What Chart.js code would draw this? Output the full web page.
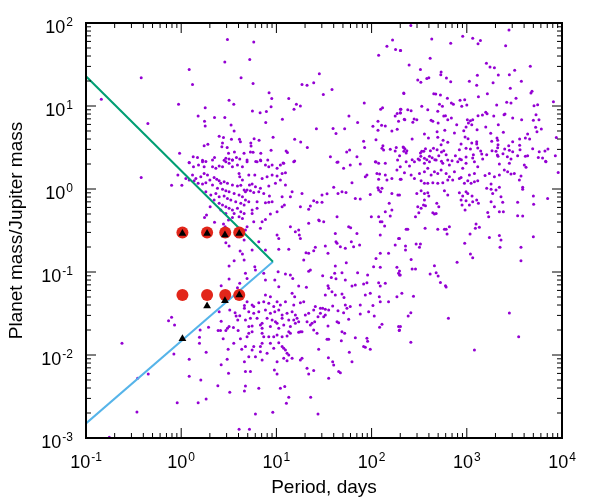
<!DOCTYPE html>
<html>
<head>
<meta charset="utf-8">
<script src="https://cdn.jsdelivr.net/npm/chart.js@4"></script>
<style>
  html, body { margin: 0; padding: 0; background: #fff; }
  canvas { display: block; }
</style>
</head>
<body>
<canvas id="chart" width="599" height="503"></canvas>
<script>
// Known planets as [log10(period, days), log10(mass, M_Jup)]
const planets = [
  // short period, high mass
  [0.486,1.80],[0.458,1.53],[0.084,1.44],[-0.42,1.34],[0.629,1.34],[0.119,1.26],[-0.839,1.08],[-0.028,1.02],
  [0.503,1.07],[0.552,1.02],[0.252,0.98],[0.178,0.88],[0.35,0.86],[0.458,0.86],[0.245,0.815],[0.252,0.76],
  [0.524,0.77],[-0.35,0.79],[0.556,0.70],[0.399,0.635],[0.444,0.62],[0.528,0.60],[0.612,0.60],[0.622,0.57],
  [0.434,0.555],[0.241,0.52],[0.28,0.54],[0.427,0.51],[0.483,0.50],[0.559,0.445],[0.497,0.43],[-0.017,0.43],
  [0.35,0.38],[0.126,0.39],[0.171,0.38],[0.66,0.43],[0.469,0.37],[0.451,0.345],[0.503,0.36],[0.538,0.35],
  [0.58,0.38],[0.615,0.36],[0.084,0.32],[0.224,0.345],[0.259,0.33],
  // 5 - 300 days, high mass
  [0.762,1.77],[0.72,1.56],[0.755,1.27],[1.451,1.39],[1.269,1.26],[1.322,1.25],[1.392,1.28],[1.493,1.14],
  [1.584,1.20],[0.923,1.16],[0.951,1.09],[1.13,1.09],[1.21,1.02],[1.252,1.0],[1.185,0.96],[0.944,0.99],
  [0.748,0.94],[0.829,0.92],[0.895,0.935],[0.888,0.80],[1.063,0.84],[1.42,0.727],[1.595,0.73],[1.626,0.67],
  [1.717,0.727],[1.762,0.88],[1.853,0.80],[1.923,1.036],[2.095,0.96],[2.115,0.98],[2.074,1.61],[2.161,1.72],
  [2.22,1.795],[2.252,1.68],[2.304,1.67],[2.339,1.15],[2.248,0.88],[2.269,0.91],[2.301,0.92],[2.308,0.96],
  [2.343,0.84],[2.283,0.815],[2.067,0.815],[2.014,0.755],[2.105,0.767],[2.144,0.76],[2.067,0.707],[2.213,0.70],
  [2.269,0.72],[2.046,0.594],[1.916,0.574],[1.927,0.50],[2.119,0.52],[2.126,0.47],[2.109,0.49],[2.196,0.478],
  [2.248,0.458],[2.259,0.50],[2.336,0.50],[2.339,0.454],[2.294,0.40],[2.273,0.35],[2.046,0.325],[1.846,0.39],
  [1.769,0.47],[1.738,0.446],[1.567,0.39],[1.647,0.325],[1.325,0.50],[1.255,0.566],[1.192,0.598],[1.116,0.44],
  [1.102,0.458],[0.965,0.622],[0.818,0.586],[0.766,0.606],[0.731,0.554],[0.734,0.518],[0.727,0.446],[0.755,0.442],
  [0.836,0.43],[0.944,0.466],[0.692,0.35],[0.783,0.33],[0.836,0.34],[0.909,0.35],[1.192,0.337],[1.07,0.313],
  // long period, high mass
  [2.412,1.97],[3.443,1.916],[2.632,1.807],[2.957,1.84],[3.062,1.815],[3.143,1.79],[2.831,1.755],[3.118,1.75],
  [3.408,1.727],[2.303,1.67],[2.615,1.574],[2.394,1.494],[3.206,1.514],[3.244,1.47],[3.29,1.462],[3.667,1.478],
  [2.513,1.44],[2.73,1.41],[2.727,1.378],[3.111,1.37],[3.331,1.373],[3.503,1.43],[3.447,1.378],[2.786,1.337],
  [2.485,1.313],[2.517,1.285],[2.58,1.33],[2.601,1.34],[2.831,1.293],[3.027,1.297],[3.104,1.249],[3.276,1.281],
  [3.573,1.297],[2.338,1.157],[2.653,1.149],[2.674,1.145],[2.723,1.133],[3.674,1.157],[3.685,1.177],[3.457,1.213],
  [3.122,1.112],[3.216,1.149],[2.796,1.092],[2.929,1.068],[2.978,1.076],[3.517,1.092],[3.419,1.044],[3.464,1.036],
  [3.314,1.012],[3.706,1.004],[3.744,1.016],[2.713,1.02],[2.838,1.036],[2.859,1.02],[2.744,0.996],[2.947,0.996],
  [3.0,1.012],[2.527,0.996],[2.303,0.96],[2.38,0.956],[2.415,0.944],[2.59,0.956],[2.695,0.936],[2.776,0.884],
  [2.758,0.88],[2.8,0.835],[2.838,0.855],[2.699,0.795],[2.643,0.815],[2.625,0.827],[2.447,0.843],[2.433,0.803],
  [2.349,0.835],[2.303,0.916],[2.475,0.835],[3.006,0.835],[3.038,0.823],[3.062,0.835],[3.017,0.795],[3.052,0.775],
  [2.894,0.775],[2.87,0.675],[2.968,0.703],[2.992,0.747],[3.108,0.715],[2.982,0.627],[3.118,0.884],[3.164,0.892],
  [3.199,0.924],[3.213,0.908],[3.283,0.88],[3.401,0.904],[3.391,0.896],[3.482,0.855],[3.576,0.835],[3.699,0.827],
  [3.758,0.835],[3.727,0.896],[3.723,0.743],[3.783,0.723],[3.331,0.775],[3.199,0.747],[3.251,0.671],[3.384,0.683],
  [3.317,0.614],[3.324,0.586],[3.639,0.663],[3.615,0.614],[3.555,0.602],[3.482,0.57],[3.66,0.602],[3.737,0.69],
  [2.555,0.663],[2.688,0.69],[2.769,0.707],[2.597,0.614],[2.695,0.622],[2.751,0.586],[2.426,0.602],[2.8,0.562],
  [2.73,0.534],[2.94,0.542],[3.013,0.606],[3.052,0.554],[3.104,0.57],[3.104,0.542],[2.922,0.474],[2.992,0.49],
  [3.038,0.482],[3.115,0.494],[3.146,0.458],[3.157,0.422],[3.262,0.574],[3.265,0.462],[3.209,0.414],[3.328,0.534],
  [3.324,0.498],[3.307,0.454],[3.321,0.41],[3.38,0.426],[3.398,0.482],[3.447,0.466],[3.44,0.522],[3.482,0.45],
  [3.555,0.526],[3.559,0.474],[3.692,0.486],[3.761,0.45],[3.821,0.458],[3.852,0.482],[3.751,0.38],[3.796,0.373],
  [3.615,0.394],[3.639,0.40],[3.534,0.40],[3.464,0.361],[3.426,0.39],[3.328,0.394],[3.069,0.414],[3.062,0.373],
  [2.926,0.361],[2.943,0.353],[2.845,0.341],[2.783,0.414],[2.758,0.462],[2.734,0.446],[2.688,0.474],[2.65,0.49],
  [2.618,0.462],[2.566,0.486],[2.548,0.454],[2.527,0.454],[2.513,0.434],[2.517,0.394],[2.555,0.37],[2.58,0.353],
  [2.608,0.394],[2.636,0.378],[2.664,0.353],[2.706,0.402],[2.734,0.333],[2.8,0.35],[2.88,0.40],[2.992,0.386],
  [3.167,0.361],[2.349,0.486],[2.363,0.434],[2.426,0.353],[2.331,0.506],[2.37,0.462],[2.489,0.361],[3.828,0.333],
  // hot Jupiters, 0.7 - 5 days
  [-0.42,0.14],[-0.101,0.044],[-0.035,0.168],[0.007,0.044],[0.084,0.317],[0.129,0.269],[0.182,0.289],[0.224,0.329],
  [0.241,0.269],[0.119,0.168],[0.154,0.128],[0.206,0.148],[0.241,0.188],[0.276,0.168],[0.329,0.269],[0.364,0.249],
  [0.399,0.277],[0.434,0.269],[0.469,0.329],[0.503,0.309],[0.538,0.269],[0.591,0.289],[0.608,0.188],[0.615,0.148],
  [0.643,0.108],[0.643,0.269],[0.538,0.349],[0.329,0.349],[0.049,0.128],[0.084,0.108],[0.136,0.10],[0.178,0.068],
  [0.224,0.06],[0.259,0.076],[0.301,0.108],[0.346,0.14],[0.374,0.116],[0.399,0.10],[0.416,0.068],[0.451,0.088],
  [0.486,0.068],[0.538,0.048],[0.591,0.036],[0.626,0.044],[0.661,-0.012],[0.329,0.048],[0.381,0.008],[0.434,-0.004],
  [0.469,-0.02],[0.503,-0.033],[0.556,-0.053],[0.608,-0.073],[0.643,-0.093],[0.259,-0.033],[0.311,-0.073],[0.364,-0.053],
  [0.399,-0.093],[0.451,-0.085],[0.486,-0.113],[0.521,-0.133],[0.573,-0.153],[0.626,-0.173],[0.661,-0.193],[0.346,-0.133],
  [0.399,-0.173],[0.434,-0.193],[0.469,-0.213],[0.503,-0.233],[0.538,-0.253],[0.591,-0.233],[0.626,-0.273],[0.661,-0.294],
  [0.556,-0.294],[0.608,-0.334],[0.643,-0.354],[0.538,-0.342],[0.469,-0.294],[0.416,-0.253],[0.304,-0.213],[0.245,-0.342],
  [0.266,-0.314],[0.35,-0.402],[0.444,-0.422],[0.462,-0.454],[0.497,-0.374],[0.469,-0.647],[0.503,-0.687],[0.619,-0.747],
  [0.643,-0.783],[0.556,-0.864],[0.503,-0.928],[0.503,-1.085],[0.42,-1.165],[0.591,-1.189],[0.615,-1.137],[0.661,-0.615],
  [0.591,-0.575],[0.661,-0.856],
  // 5 - 200 days, 0.03 - 2 M_Jup
  [0.692,0.329],[0.797,0.329],[0.832,0.349],[0.885,0.289],[0.92,0.269],[0.955,0.289],[1.007,0.249],[1.042,0.289],
  [1.077,0.309],[1.182,0.329],[0.71,0.168],[0.773,0.168],[0.85,0.128],[0.902,0.149],[0.955,0.168],[1.007,0.156],
  [1.06,0.188],[1.095,0.196],[0.717,0.048],[0.745,0.06],[0.78,0.028],[0.832,0.008],[0.92,0.036],[0.99,0.068],
  [1.042,0.108],[1.095,0.048],[0.675,-0.033],[0.692,-0.012],[0.727,-0.02],[0.762,-0.041],[0.815,-0.033],[0.867,-0.053],
  [0.927,-0.085],[0.885,-0.165],[0.92,-0.161],[0.955,-0.153],[1.06,-0.093],[0.675,-0.133],[0.71,-0.153],[0.797,-0.153],
  [0.745,-0.253],[0.797,-0.233],[0.745,-0.294],[1.007,-0.273],[0.937,-0.302],[0.885,-0.366],[0.85,-0.394],[0.762,-0.394],
  [0.692,-0.454],[0.832,-0.474],[0.675,-0.494],[1.007,-0.555],[1.025,-0.595],[1.147,-0.454],[1.199,-0.514],[1.234,-0.494],
  [1.241,-0.555],[1.252,-0.595],[1.13,-0.727],[1.025,-0.727],[0.885,-0.735],[0.815,-0.635],[0.745,-0.735],[1.339,-0.414],
  [1.444,-0.374],[1.497,-0.394],[1.409,-0.703],[1.392,-0.743],[1.339,-0.775],[1.311,-0.767],[1.514,-0.687],[1.542,-0.775],
  [1.619,-0.535],[1.626,-0.635],[1.637,-0.655],[1.672,-0.695],[1.724,-0.715],[1.787,-0.635],[1.811,-0.695],[1.846,-0.535],
  [1.874,-0.675],[1.759,-0.454],[1.78,-0.466],[1.734,-0.888],[1.619,-0.928],[1.612,-1.016],[1.287,-0.856],[1.357,-0.976],
  [1.339,-0.992],[1.486,-1.045],[1.577,-1.065],[1.626,-1.081],[1.689,-1.008],[1.724,-1.097],[1.794,-1.169],[1.829,-1.157],
  [1.916,-1.145],[1.951,-1.129],[1.958,-1.037],[1.853,-1.008],[2.021,-0.936],[2.091,-0.944],[2.046,-0.836],[2.091,-0.775],
  [2.178,-0.775],[2.248,-0.675],[2.283,-0.595],[2.091,-0.555],[2.137,-0.446],[2.196,-0.326],[2.213,-0.253],[2.091,-0.394],
  [2.109,-0.394],[1.997,-0.334],[2.074,-0.334],[2.185,-0.173],[2.144,-0.273],[1.986,-0.065],[1.951,0.168],[1.934,0.149],
  [2.074,0.116],[2.056,0.188],[2.084,0.18],[2.161,0.108],[2.144,0.168],[2.213,0.128],[2.301,0.116],[2.266,0.229],
  [2.301,0.269],[2.074,0.309],[2.144,0.309],[2.039,0.329],[1.881,0.301],[1.776,0.289],[1.706,0.249],[1.637,0.321],
  [1.794,0.076],[1.602,0.02],[1.532,-0.057],[1.479,-0.073],[1.392,-0.141],[1.427,-0.161],[1.479,-0.161],[1.357,-0.205],
  [1.339,-0.245],[1.269,-0.053],[1.252,-0.213],[1.165,-0.033],[1.147,-0.093],[1.084,-0.193],[1.06,-0.213],[1.829,-0.113],
  [1.881,-0.121],[2.213,-0.053],[2.276,-0.073],[2.109,0.008],[2.074,-0.012],[2.095,-0.033],[2.067,0.016],[1.731,-0.041],
  [1.689,-0.033],[1.647,-0.053],[1.637,-0.334],[1.451,-0.382],[1.025,-1.177],[0.885,-1.278],[0.937,-1.298],[1.165,-1.257],
  [1.192,-1.298],[1.234,-1.169],[1.315,-1.185],[1.147,-1.037],[1.172,-1.077],[1.095,-1.024],[1.018,-0.996],[0.983,-1.097],
  [0.773,-0.936],[0.78,-0.976],[0.692,-1.077],[0.675,-1.016],[0.867,-1.016],[0.885,-1.097],[1.584,-1.237],[1.619,-1.278],
  [1.689,-1.265],[1.71,-1.306],[1.549,-1.197],[1.542,-1.165],[1.514,-1.278],[1.934,-1.278],[1.986,-1.257],[2.074,-1.129],
  [2.091,-1.169],[2.144,-1.137],[2.266,-0.944],[2.283,-1.016],[2.301,-1.037],[2.081,-1.298],[2.266,-1.298],[2.318,-1.257],
  // long period, 0.05 - 2 M_Jup
  [2.363,0.329],[2.398,0.277],[2.45,0.329],[2.503,0.349],[2.555,0.309],[2.608,0.329],[2.678,0.349],[2.748,0.309],
  [2.817,0.289],[2.905,0.329],[2.992,0.309],[3.08,0.329],[3.115,0.269],[2.345,0.196],[2.415,0.168],[2.45,0.128],
  [2.503,0.188],[2.555,0.208],[2.59,0.249],[2.625,0.168],[2.66,0.208],[2.695,0.188],[2.73,0.229],[2.783,0.188],
  [2.817,0.149],[2.87,0.208],[2.922,0.128],[2.957,0.249],[3.027,0.168],[3.08,0.188],[2.31,0.116],[2.52,0.1],
  [2.555,0.068],[2.59,0.068],[2.643,0.076],[2.695,0.068],[2.748,0.076],[2.8,0.108],[2.852,0.108],[2.94,0.14],
  [2.975,0.068],[3.01,0.1],[3.045,0.068],[3.08,0.088],[3.115,0.1],[3.192,0.164],[3.237,0.188],[3.29,0.149],
  [3.255,0.06],[3.342,0.168],[3.342,0.301],[3.394,0.229],[3.429,0.208],[3.464,0.18],[3.447,0.309],[3.499,0.188],
  [3.552,0.108],[3.569,0.156],[3.604,0.289],[3.622,0.261],[3.831,0.329],[3.849,-0.113],[3.699,-0.085],[3.702,-0.185],
  [3.587,0.02],[3.587,-0.004],[3.534,-0.161],[3.534,-0.322],[3.587,-0.326],[3.377,-0.161],[3.342,-0.273],[3.384,-0.273],
  [3.255,-0.153],[3.29,-0.213],[3.272,-0.053],[3.307,-0.012],[3.359,-0.093],[3.342,0.02],[3.255,-0.004],[3.209,0.008],
  [2.293,-0.073],[2.475,-0.053],[2.52,-0.02],[2.555,-0.053],[2.59,-0.045],[2.601,-0.085],[2.765,-0.02],[2.8,-0.073],
  [2.922,-0.045],[2.957,-0.085],[2.992,-0.033],[3.01,-0.053],[3.055,-0.085],[2.94,-0.133],[2.992,-0.141],[3.027,-0.193],
  [3.062,-0.153],[3.104,-0.133],[2.982,-0.253],[2.95,-0.193],[3.122,-0.173],[2.555,-0.133],[2.545,-0.193],[2.566,-0.201],
  [2.685,-0.173],[2.706,-0.213],[2.485,-0.213],[2.52,-0.233],[2.496,-0.286],[2.461,-0.334],[2.643,-0.286],[2.66,-0.302],
  [2.678,-0.294],[3.22,-0.282],[3.23,-0.334],[2.363,-0.486],[2.38,-0.486],[2.293,-0.595],[2.562,-0.474],[2.695,-0.486],
  [2.765,-0.486],[2.783,-0.486],[2.793,-0.542],[2.817,-0.454],[3.034,-0.542],[3.09,-0.474],[3.097,-0.422],[3.132,-0.462],
  [3.237,-0.583],[3.342,-0.559],[3.359,-0.615],[3.349,-0.703],[3.569,-0.703],[3.569,-0.864],[3.699,-0.575],[2.978,-0.655],
  [3.038,-0.783],[3.062,-0.828],[2.898,-0.884],[2.468,-0.663],[2.513,-0.663],[2.503,-0.703],[2.356,-0.687],[2.356,-0.735],
  [2.415,-0.848],[2.426,-0.964],[2.461,-0.964],[2.66,-0.924],[2.678,-1.008],[2.615,-1.024],[2.699,-1.048],[2.723,-1.125],
  [2.776,-1.165],[2.783,-1.181],[2.44,-1.293],[2.293,-0.988],[2.293,-1.036],
  [3.91,1.05],[3.94,0.62],[3.93,0.4],[3.96,0.2],
  // short period, low mass
  [-0.622,-1.859],[-0.133,-1.586],[-0.101,-1.546],[-0.07,-1.638],[-0.077,-1.988],[0.084,-2.052],[0.084,-2.257],[0.206,-2.301],
  [-0.042,-2.574],[0.178,-2.574],[0.262,-2.53],[-0.458,-2.281],[-0.346,-2.229],[-0.465,-2.686],[0.199,-1.698],[0.192,-1.787],
  [0.192,-1.859],[0.262,-1.968],[0.287,-1.666],[0.399,-1.478],[0.42,-1.594],[0.388,-1.706],[0.413,-1.706],[0.469,-1.706],
  [0.486,-1.678],[0.441,-1.803],[0.503,-1.658],[0.549,-1.67],[0.51,-1.457],[0.566,-1.49],[0.577,-1.53],[0.594,-1.578],
  [0.615,-1.526],[0.664,-1.405],[0.664,-1.437],[0.598,-1.706],[0.622,-1.803],[0.636,-1.931],[0.552,-1.859],[0.493,-1.931],
  [0.483,-2.052],[0.42,-2.116],[0.497,-2.221],[0.385,-2.369],[0.51,-2.45],[0.664,-2.08],[0.664,-2.434],[0.608,-2.895],
  [-0.755,-2.99],
  // 5 - 300 days, low mass
  [0.692,-1.357],[0.745,-1.397],[0.762,-1.417],[0.815,-1.369],[0.867,-1.357],[0.92,-1.377],[0.972,-1.417],[1.007,-1.357],
  [1.042,-1.397],[1.095,-1.357],[1.182,-1.397],[1.252,-1.369],[1.287,-1.357],[0.71,-1.478],[0.762,-1.498],[0.815,-1.478],
  [0.885,-1.457],[0.937,-1.498],[0.983,-1.478],[1.025,-1.457],[1.06,-1.518],[1.112,-1.498],[1.165,-1.478],[1.199,-1.518],
  [0.675,-1.578],[0.727,-1.558],[0.797,-1.558],[0.85,-1.618],[0.902,-1.558],[0.955,-1.578],[0.99,-1.598],[1.06,-1.558],
  [1.13,-1.578],[1.182,-1.578],[1.217,-1.558],[1.234,-1.598],[0.71,-1.658],[0.745,-1.65],[0.832,-1.638],[0.85,-1.678],
  [0.937,-1.658],[1.007,-1.618],[1.025,-1.678],[1.077,-1.638],[1.147,-1.658],[1.199,-1.618],[1.252,-1.719],[1.234,-1.727],
  [1.269,-1.719],[0.71,-1.739],[0.745,-1.719],[0.692,-1.779],[0.85,-1.739],[0.867,-1.779],[0.92,-1.779],[0.972,-1.779],
  [1.007,-1.759],[1.025,-1.851],[1.06,-1.779],[1.112,-1.771],[1.13,-1.719],[1.147,-1.739],[0.675,-1.899],[0.762,-1.899],
  [0.85,-1.859],[0.832,-1.899],[0.937,-1.859],[0.972,-1.919],[1.06,-1.899],[1.077,-1.919],[1.095,-1.939],[1.112,-1.98],
  [1.13,-2.0],[1.077,-2.04],[1.112,-2.068],[1.165,-2.04],[0.745,-1.939],[0.71,-2.02],[0.78,-2.02],[0.832,-1.96],
  [0.85,-2.06],[0.902,-1.98],[1.007,-2.08],[0.979,-2.18],[1.007,-2.229],[1.252,-2.06],[1.269,-2.04],[1.322,-2.16],
  [1.339,-2.229],[1.392,-2.188],[0.675,-2.2],[0.727,-2.2],[0.675,-2.373],[0.815,-2.401],[1.042,-2.401],[1.088,-2.381],
  [1.13,-2.51],[1.105,-2.582],[0.962,-2.69],[0.78,-2.71],[0.717,-2.895],[1.36,-2.51],[1.437,-2.71],[1.549,-2.281],
  [1.654,-2.2],[1.672,-2.213],[1.602,-2.12],[1.591,-2.08],[1.546,-2.032],[1.444,-1.931],[1.427,-1.739],[1.392,-1.698],
  [1.357,-1.638],[1.374,-1.618],[1.402,-1.598],[1.322,-1.598],[1.304,-1.518],[1.339,-1.498],[1.392,-1.457],[1.409,-1.417],
  [1.462,-1.437],[1.497,-1.538],[1.514,-1.518],[1.549,-1.457],[1.591,-1.409],[1.647,-1.466],[1.706,-1.49],[1.724,-1.397],
  [1.741,-1.437],[1.776,-1.417],[1.881,-1.397],[1.881,-1.506],[1.969,-1.478],[2.014,-1.405],[2.028,-1.53],[2.091,-1.357],
  [2.178,-1.357],[2.109,-1.63],[2.084,-1.666],[2.283,-1.658],[2.29,-1.706],[1.759,-1.57],[1.689,-1.719],[1.717,-1.739],
  [1.829,-1.791],[1.951,-1.799],[1.958,-1.835],[1.916,-1.899],[1.934,-1.907],[1.986,-1.931],[1.766,-1.968],[1.794,-2.08],
  [1.682,-1.827],[1.532,-1.811],[1.549,-1.811],[1.542,-1.65],[1.637,-1.598],[1.654,-1.61],[1.437,-1.538],[1.462,-1.498],
  [1.486,-1.437],[1.514,-1.449],
  // long period, low mass
  [2.412,-1.49],[2.384,-1.53],[2.303,-1.658],[2.293,-1.698],[2.412,-1.847],[2.807,-1.558],[3.08,-1.939],[3.447,-1.494],
  [3.545,-1.779]
];

// model planets (red circles) and their counterparts (black triangles)
const modelPeriod = [1.03, 1.87, 2.9, 4.07];
const modelMassHigh = [0.3, 0.3, 0.3, 0.3];
const modelMassLow = [0.053, 0.053, 0.053, 0.053];
const triPeriod = [1.03, 1.87, 2.88, 4.07];
const triMassHigh = [0.29, 0.29, 0.28, 0.29];
const triMassLow = [0.0157, 0.039, 0.045, 0.053];

// boundary lines [period, mass]
const upperEdge = [[0.1, 22.8], [9.2, 0.133]];
const lowerEdge = [[0.1, 0.0015], [9.2, 0.133]];

const xTickExps = [-1, 0, 1, 2, 3, 4];
const yTickExps = [-3, -2, -1, 0, 1, 2];

const FONT = '"Liberation Sans", Arial, Helvetica, sans-serif';

function toPoints(xs, ys) {
  return xs.map((x, i) => ({ x: x, y: ys[i] }));
}

function drawPower(ctx, exp, x, y, align) {
  const base = "10";
  const sup = String(exp);
  ctx.font = "18px " + FONT;
  const wb = ctx.measureText(base).width;
  ctx.font = "12px " + FONT;
  const ws = ctx.measureText(sup).width;
  const total = wb + 1 + ws;
  const x0 = align === "right" ? x - total : x - total / 2;
  ctx.textAlign = "left";
  ctx.textBaseline = "alphabetic";
  ctx.font = "18px " + FONT;
  ctx.fillText(base, x0, y);
  ctx.font = "12px " + FONT;
  ctx.fillText(sup, x0 + wb + 1, y - 7);
}

// gnuplot-style frame: inward ticks on all sides, superscript labels
const framePlugin = {
  id: "frame",
  afterDraw(chart) {
    const ctx = chart.ctx;
    const a = chart.chartArea;
    const xs = chart.scales.x;
    const ys = chart.scales.y;
    ctx.save();
    ctx.strokeStyle = "#000";
    ctx.fillStyle = "#000";
    ctx.lineWidth = 1;

    ctx.beginPath();
    for (let e = -1; e < 4; e++) {
      for (let m = 1; m < 10; m++) {
        const px = xs.getPixelForValue(m * Math.pow(10, e));
        const len = m === 1 ? 10 : 5;
        ctx.moveTo(px, a.bottom); ctx.lineTo(px, a.bottom - len);
        ctx.moveTo(px, a.top); ctx.lineTo(px, a.top + len);
      }
    }
    for (let e = -3; e < 2; e++) {
      for (let m = 1; m < 10; m++) {
        const py = ys.getPixelForValue(m * Math.pow(10, e));
        const len = m === 1 ? 10 : 5;
        ctx.moveTo(a.left, py); ctx.lineTo(a.left + len, py);
        ctx.moveTo(a.right, py); ctx.lineTo(a.right - len, py);
      }
    }
    ctx.stroke();

    ctx.lineWidth = 2;
    ctx.strokeRect(a.left, a.top, a.right - a.left, a.bottom - a.top);

    xTickExps.forEach(e => {
      drawPower(ctx, e, xs.getPixelForValue(Math.pow(10, e)), a.bottom + 30, "center");
    });
    yTickExps.forEach(e => {
      drawPower(ctx, e, a.left - 13, ys.getPixelForValue(Math.pow(10, e)) + 9.5, "right");
    });

    ctx.font = "19px " + FONT;
    ctx.textAlign = "center";
    ctx.textBaseline = "alphabetic";
    ctx.fillText("Period, days", (a.left + a.right) / 2, a.bottom + 55);
    ctx.translate(22, (a.top + a.bottom) / 2);
    ctx.rotate(-Math.PI / 2);
    ctx.fillText("Planet mass/Jupiter mass", 0, 0);
    ctx.restore();
  }
};

const ctx = document.getElementById("chart").getContext("2d");
const massChart = new Chart(ctx, {
  type: "scatter",
  data: {
    datasets: [
      {
        label: "planets",
        data: planets.map(p => ({ x: Math.pow(10, p[0]), y: Math.pow(10, p[1]) })),
        backgroundColor: "#9400d3",
        borderWidth: 0,
        pointRadius: 1.5,
        order: 4
      },
      {
        label: "upper",
        type: "line",
        data: upperEdge.map(p => ({ x: p[0], y: p[1] })),
        borderColor: "#009e73",
        borderWidth: 2,
        pointRadius: 0,
        fill: false,
        order: 3
      },
      {
        label: "lower",
        type: "line",
        data: lowerEdge.map(p => ({ x: p[0], y: p[1] })),
        borderColor: "#56b4e9",
        borderWidth: 2,
        pointRadius: 0,
        fill: false,
        order: 3
      },
      {
        label: "models",
        data: toPoints(modelPeriod, modelMassHigh).concat(toPoints(modelPeriod, modelMassLow)),
        backgroundColor: "#e2261a",
        borderWidth: 0,
        pointRadius: 6,
        order: 2
      },
      {
        label: "triangles",
        data: toPoints(triPeriod, triMassHigh).concat(toPoints(triPeriod, triMassLow)),
        backgroundColor: "#000",
        borderWidth: 0,
        pointStyle: "triangle",
        pointRadius: 4.5,
        order: 1
      }
    ]
  },
  options: {
    responsive: false,
    animation: false,
    layout: { padding: { left: 86, right: 37, top: 23, bottom: 65 } },
    plugins: {
      legend: { display: false },
      tooltip: { enabled: false }
    },
    scales: {
      x: { type: "logarithmic", min: 0.1, max: 10000, display: false },
      y: { type: "logarithmic", min: 0.001, max: 100, display: false }
    }
  },
  plugins: [framePlugin]
});
</script>
</body>
</html>
